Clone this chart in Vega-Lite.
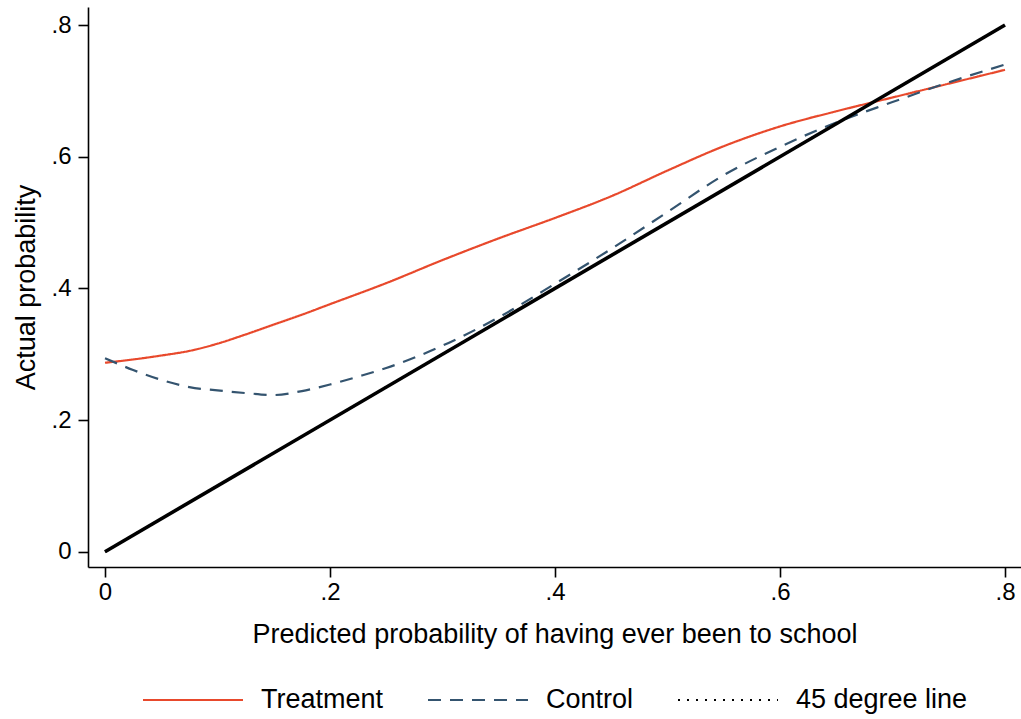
{
  "$schema": "https://vega.github.io/schema/vega-lite/v6.json",
  "width": 933,
  "height": 560,
  "autosize": {"type": "none"},
  "padding": {"left": 88, "top": 7, "right": 0, "bottom": 152},
  "background": "white",
  "config": {
    "font": "Liberation Sans",
    "view": {"stroke": null},
    "axis": {
      "grid": false,
      "domainColor": "#000000",
      "domainWidth": 1.6,
      "tickColor": "#000000",
      "tickWidth": 1.6,
      "tickSize": 10,
      "labelColor": "#000000",
      "titleColor": "#000000",
      "labelFont": "Liberation Sans",
      "titleFont": "Liberation Sans",
      "titleFontWeight": "normal",
      "labelFontSize": 24,
      "titleFontSize": 27
    },
    "legend": {
      "labelFont": "Liberation Sans",
      "labelFontSize": 27,
      "labelColor": "#000000",
      "labelLimit": 400
    }
  },
  "data": {
    "values": [
      {"x": 0.0, "y": 0.287, "series": "Treatment"},
      {"x": 0.025, "y": 0.292, "series": "Treatment"},
      {"x": 0.05, "y": 0.298, "series": "Treatment"},
      {"x": 0.075, "y": 0.305, "series": "Treatment"},
      {"x": 0.1, "y": 0.316, "series": "Treatment"},
      {"x": 0.125, "y": 0.330, "series": "Treatment"},
      {"x": 0.15, "y": 0.345, "series": "Treatment"},
      {"x": 0.175, "y": 0.360, "series": "Treatment"},
      {"x": 0.2, "y": 0.376, "series": "Treatment"},
      {"x": 0.25, "y": 0.408, "series": "Treatment"},
      {"x": 0.3, "y": 0.443, "series": "Treatment"},
      {"x": 0.35, "y": 0.476, "series": "Treatment"},
      {"x": 0.4, "y": 0.507, "series": "Treatment"},
      {"x": 0.45, "y": 0.540, "series": "Treatment"},
      {"x": 0.5, "y": 0.579, "series": "Treatment"},
      {"x": 0.55, "y": 0.616, "series": "Treatment"},
      {"x": 0.6, "y": 0.646, "series": "Treatment"},
      {"x": 0.65, "y": 0.669, "series": "Treatment"},
      {"x": 0.7, "y": 0.690, "series": "Treatment"},
      {"x": 0.75, "y": 0.711, "series": "Treatment"},
      {"x": 0.8, "y": 0.732, "series": "Treatment"},
      {"x": 0.0, "y": 0.294, "series": "Control"},
      {"x": 0.025, "y": 0.276, "series": "Control"},
      {"x": 0.05, "y": 0.261, "series": "Control"},
      {"x": 0.075, "y": 0.250, "series": "Control"},
      {"x": 0.1, "y": 0.245, "series": "Control"},
      {"x": 0.125, "y": 0.241, "series": "Control"},
      {"x": 0.15, "y": 0.238, "series": "Control"},
      {"x": 0.175, "y": 0.244, "series": "Control"},
      {"x": 0.2, "y": 0.254, "series": "Control"},
      {"x": 0.225, "y": 0.266, "series": "Control"},
      {"x": 0.25, "y": 0.279, "series": "Control"},
      {"x": 0.3, "y": 0.313, "series": "Control"},
      {"x": 0.35, "y": 0.356, "series": "Control"},
      {"x": 0.4, "y": 0.407, "series": "Control"},
      {"x": 0.45, "y": 0.460, "series": "Control"},
      {"x": 0.5, "y": 0.516, "series": "Control"},
      {"x": 0.55, "y": 0.572, "series": "Control"},
      {"x": 0.6, "y": 0.615, "series": "Control"},
      {"x": 0.65, "y": 0.652, "series": "Control"},
      {"x": 0.7, "y": 0.683, "series": "Control"},
      {"x": 0.75, "y": 0.713, "series": "Control"},
      {"x": 0.8, "y": 0.740, "series": "Control"},
      {"x": 0.0, "y": 0.0, "series": "45 degree line"},
      {"x": 0.8, "y": 0.8, "series": "45 degree line"}
    ]
  },
  "encoding": {
    "x": {
      "field": "x",
      "type": "quantitative",
      "scale": {"domain": [-0.01511, 0.81422], "nice": false, "zero": false},
      "axis": {
        "title": "Predicted probability of having ever been to school",
        "values": [0, 0.2, 0.4, 0.6, 0.8],
        "labelExpr": "datum.value == 0 ? '0' : '.' + format(datum.value * 10, 'd')",
        "labelPadding": 3,
        "labelFlush": false,
        "titleY": 75,
        "titleBaseline": "alphabetic"
      }
    },
    "y": {
      "field": "y",
      "type": "quantitative",
      "scale": {"domain": [-0.02324, 0.82743], "nice": false, "zero": false},
      "axis": {
        "title": "Actual probability",
        "values": [0, 0.2, 0.4, 0.6, 0.8],
        "labelExpr": "datum.value == 0 ? '0' : '.' + format(datum.value * 10, 'd')",
        "labelPadding": 7,
        "labelFlush": false,
        "titleX": -54,
        "titleBaseline": "alphabetic"
      }
    }
  },
  "layer": [
    {
      "mark": {"type": "line", "strokeWidth": 2.2, "interpolate": "monotone"},
      "encoding": {
        "detail": {"field": "series"},
        "color": {
          "field": "series",
          "type": "nominal",
          "scale": {
            "domain": ["Treatment", "Control", "45 degree line"],
            "range": ["#E8492C", "#34546F", "#000000"]
          },
          "legend": {
            "title": null,
            "orient": "none",
            "direction": "horizontal",
            "legendX": 54,
            "legendY": 642,
            "symbolType": "stroke",
            "symbolSize": 10000,
            "symbolStrokeWidth": 2,
            "labelOffset": 17,
            "columnPadding": 40
          }
        },
        "strokeDash": {
          "field": "series",
          "type": "nominal",
          "scale": {
            "domain": ["Treatment", "Control", "45 degree line"],
            "range": [[1, 0], [13, 9], [2, 7]]
          },
          "legend": {
            "title": null,
            "orient": "none",
            "direction": "horizontal",
            "legendX": 54,
            "legendY": 642,
            "symbolType": "stroke",
            "symbolSize": 10000,
            "symbolStrokeWidth": 2,
            "labelOffset": 17,
            "columnPadding": 40
          }
        }
      }
    },
    {
      "transform": [{"filter": "datum.series == '45 degree line'"}],
      "mark": {"type": "line", "strokeWidth": 3.6, "color": "#000000"},
      "encoding": {}
    }
  ]
}
